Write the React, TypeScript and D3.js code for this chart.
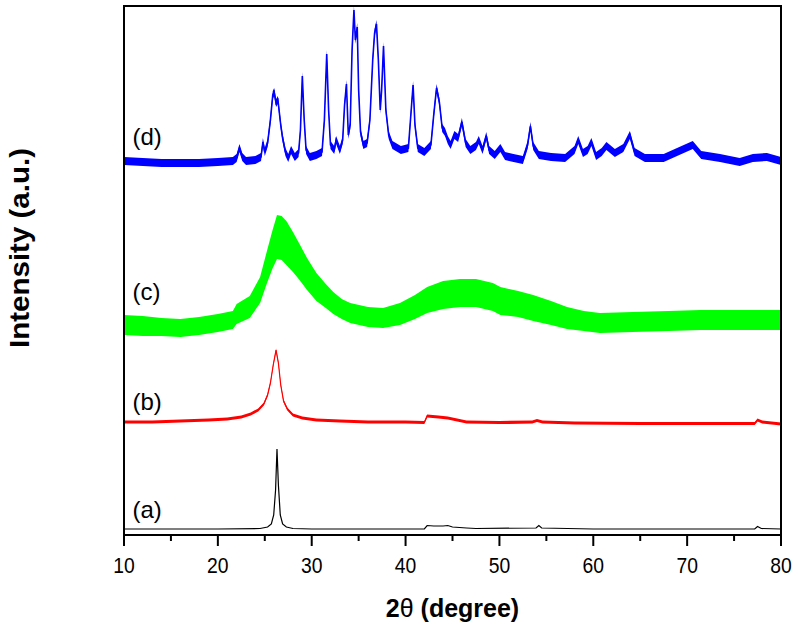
import React from 'react';
import * as d3 from 'd3';

// ---- axis ticks ----
const xMajorTicks = [10, 20, 30, 40, 50, 60, 70, 80];
const xMinorTicks = [15, 25, 35, 45, 55, 65, 75];

// ---- series (2θ in degrees, intensity in a.u.) ----
// (a) black
const seriesA: [number, number][] = [
  [10, 6], [15, 6], [20, 6], [24.5, 6.5], [25.3, 8], [25.7, 11], [25.95, 20], [26.15, 45],
  [26.3, 86], [26.45, 50], [26.65, 20], [26.9, 11], [27.3, 8], [28, 6.5], [30, 6], [36, 6],
  [42.0, 6], [42.3, 9.5], [43.0, 9], [44.0, 9], [44.5, 9.5], [45.0, 8], [46.5, 7], [47.5, 6.5],
  [53.9, 7], [54.2, 9.5], [54.5, 7], [60, 6], [70, 6], [77.2, 6], [77.5, 8.5], [77.9, 6.5], [80, 6],
];

// (b) red
const seriesB: [number, number][] = [
  [10, 113], [13, 113], [16, 114], [19, 115], [21, 116], [22.5, 118], [23.5, 121], [24.3, 125],
  [24.9, 131], [25.3, 140], [25.6, 152], [25.9, 170], [26.2, 185], [26.45, 172], [26.7, 150],
  [27.0, 134], [27.4, 126], [28.0, 120], [29.0, 117], [30.5, 115], [33, 114], [36, 113], [40, 113],
  [42.0, 112.5], [42.3, 119], [43.5, 118], [44.5, 117], [45.5, 115], [46.5, 113], [50, 112.5],
  [53.5, 113], [54.0, 114.5], [54.6, 113], [58, 112], [65, 111.5], [72, 111.5], [77.2, 111.5],
  [77.5, 115], [78, 113], [79, 112], [80, 111],
];

// (c) green: [2θ, mean intensity, noise half-amplitude]
const seriesC: [number, number, number][] = [
  [10, 210, 10], [12, 209, 10], [14, 208, 9], [16, 207, 9], [18, 209, 9], [20, 212, 9],
  [21.6, 215, 9], [22.0, 221, 10], [23.4, 228, 11], [24.5, 245, 13], [25.2, 267, 16],
  [25.8, 285, 19], [26.3, 298, 22], [26.8, 297, 22], [27.3, 292, 22], [28.0, 283, 20],
  [28.7, 273, 18], [29.5, 261, 16], [30.5, 248, 14], [31.5, 239, 12], [32.3, 232, 11],
  [33.2, 226, 10], [34.1, 222, 10], [36.0, 218, 10], [37.6, 217, 10], [39.4, 221, 11],
  [41.0, 228, 12], [42.3, 235, 13], [44.0, 240, 14], [45.8, 242, 14], [47.5, 242, 14],
  [49.3, 238, 14], [50.1, 234, 14], [52.0, 231, 13], [53.6, 227, 13], [55.5, 222, 12],
  [57.2, 217, 11], [59.0, 214, 10], [60.7, 212, 10], [64.2, 213, 10], [68.0, 214, 10],
  [71.4, 215, 10], [76.0, 215, 10], [80.0, 215, 10],
];

// (d) blue
const seriesD: [number, number][] = [
  [10, 374], [12, 373], [14, 372], [16, 372], [18, 372], [20, 373], [21.6, 374], [22.0, 377],
  [22.3, 387], [22.6, 378], [23.0, 374], [24.0, 375], [24.6, 378], [24.8, 393], [25.0, 383],
  [25.3, 392], [25.6, 415], [25.85, 440], [26.0, 443], [26.2, 432], [26.4, 435], [26.7, 410],
  [26.9, 397], [27.2, 383], [27.5, 377], [27.8, 385], [28.2, 378], [28.6, 382], [28.8, 405],
  [29.0, 459], [29.2, 415], [29.4, 385], [29.8, 378], [30.5, 380], [31.1, 383], [31.35, 415],
  [31.6, 481], [31.8, 425], [32.0, 390], [32.4, 385], [32.6, 395], [33.0, 385], [33.3, 395],
  [33.5, 430], [33.7, 451], [33.9, 400], [34.1, 410], [34.3, 485], [34.5, 525], [34.65, 495],
  [34.85, 508], [35.0, 445], [35.2, 403], [35.5, 390], [35.9, 392], [36.2, 415], [36.5, 475],
  [36.7, 502], [36.9, 511], [37.1, 475], [37.3, 425], [37.45, 445], [37.65, 489], [37.9, 425],
  [38.2, 400], [38.6, 390], [39.5, 385], [40.3, 387], [40.6, 425], [40.8, 450], [41.0, 410],
  [41.3, 387], [42.0, 383], [42.7, 390], [43.0, 420], [43.3, 447], [43.6, 433], [43.9, 407],
  [44.2, 403], [44.5, 395], [44.8, 390], [45.2, 400], [45.6, 397], [46.0, 413], [46.4, 392],
  [46.9, 385], [47.5, 389], [47.8, 395], [48.2, 385], [48.6, 399], [48.9, 385], [49.5, 380],
  [50.1, 387], [50.6, 379], [51.5, 377], [52.5, 375], [53.0, 390], [53.3, 409], [53.6, 389],
  [54.2, 380], [55.5, 378], [57.0, 377], [58.0, 385], [58.4, 395], [58.9, 382], [59.4, 385],
  [59.8, 393], [60.3, 379], [60.9, 383], [61.4, 389], [62.3, 382], [63.2, 387], [63.9, 400],
  [64.4, 383], [65.5, 377], [67.5, 377], [69.4, 385], [70.6, 390], [71.5, 380], [73.5, 377],
  [75.6, 373], [77.0, 377], [78.5, 378], [80.0, 374],
];

const seriesLabels = ['(a)', '(b)', '(c)', '(d)'];
const labelLevels = [17, 125, 235, 390];
const labelAt = 10.9;

const W = 800;
const H = 633;
const left = 124, right = 781, top = 6, bottom = 535;

export default function App() {
  const x = d3.scaleLinear().domain([10, 80]).range([left, right]);
  const y = d3.scaleLinear().domain([0, 529]).range([bottom, top]);

  const line = d3.line<[number, number]>().x(d => x(d[0])).y(d => y(d[1]));
  const band = (pts: [number, number][], n: number) =>
    d3.area<[number, number]>().x(d => x(d[0])).y0(d => y(d[1] - n)).y1(d => y(d[1] + n))(pts) || '';
  const bandC = d3.area<[number, number, number]>()
    .x(d => x(d[0])).y0(d => y(d[1] - d[2])).y1(d => y(d[1] + d[2]));
  const lineC = d3.line<[number, number, number]>().x(d => x(d[0])).y(d => y(d[1]));

  const font = 'Liberation Sans, Arial, Helvetica, sans-serif';

  return (
    <svg width={W} height={H} style={{ position: 'absolute', left: 0, top: 0, background: '#fff' }}>
      <rect x={0} y={0} width={W} height={H} fill="#fff" />
      <defs>
        <clipPath id="plot">
          <rect x={left} y={top} width={right - left} height={bottom - top} />
        </clipPath>
      </defs>
      <g clipPath="url(#plot)">
        {/* (a) black */}
        <path d={line(seriesA) || ''} fill="none" stroke="#000" strokeWidth={1.2} />
        {/* (b) red */}
        <path d={band(seriesB, 1.6)} fill="#ff0000" />
        <path d={line(seriesB) || ''} fill="none" stroke="#ff0000" strokeWidth={1.2} />
        {/* (c) green */}
        <path d={bandC(seriesC) || ''} fill="#00ff00" />
        <path d={lineC(seriesC) || ''} fill="none" stroke="#00ff00" strokeWidth={1.2} />
        {/* (d) blue */}
        <path d={band(seriesD, 4)} fill="#0000ff" />
        <path d={line(seriesD) || ''} fill="none" stroke="#0000ff" strokeWidth={1.6} />
      </g>

      {/* frame */}
      <rect x={left} y={top} width={right - left} height={bottom - top} fill="none" stroke="#000" strokeWidth={2} />

      {/* bottom ticks */}
      {xMajorTicks.map(t => (
        <line key={'M' + t} x1={x(t)} x2={x(t)} y1={bottom} y2={bottom + 11} stroke="#000" strokeWidth={2} />
      ))}
      {xMinorTicks.map(t => (
        <line key={'m' + t} x1={x(t)} x2={x(t)} y1={bottom} y2={bottom + 6} stroke="#000" strokeWidth={2} />
      ))}
      {xMajorTicks.map(t => (
        <text key={'l' + t} x={x(t)} y={573} textAnchor="middle" fontFamily={font} fontSize={22}
          textLength={21.5} lengthAdjust="spacingAndGlyphs" fill="#000">{t}</text>
      ))}

      {/* axis titles */}
      <text x={(left + right) / 2} y={617} textAnchor="middle" fontFamily={font} fontSize={25} fontWeight="bold" fill="#000">
        <tspan>2</tspan><tspan fontWeight="normal">θ</tspan><tspan> (degree)</tspan>
      </text>
      <text transform={`translate(29,248) rotate(-90)`} textAnchor="middle" fontFamily={font} fontSize={28}
        fontWeight="bold" fill="#000" textLength={200} lengthAdjust="spacingAndGlyphs">Intensity (a.u.)</text>

      {/* series labels */}
      {seriesLabels.map((s, i) => (
        <text key={s} x={x(labelAt)} y={y(labelLevels[i])} fontFamily={font} fontSize={24} fill="#000">{s}</text>
      ))}
    </svg>
  );
}
